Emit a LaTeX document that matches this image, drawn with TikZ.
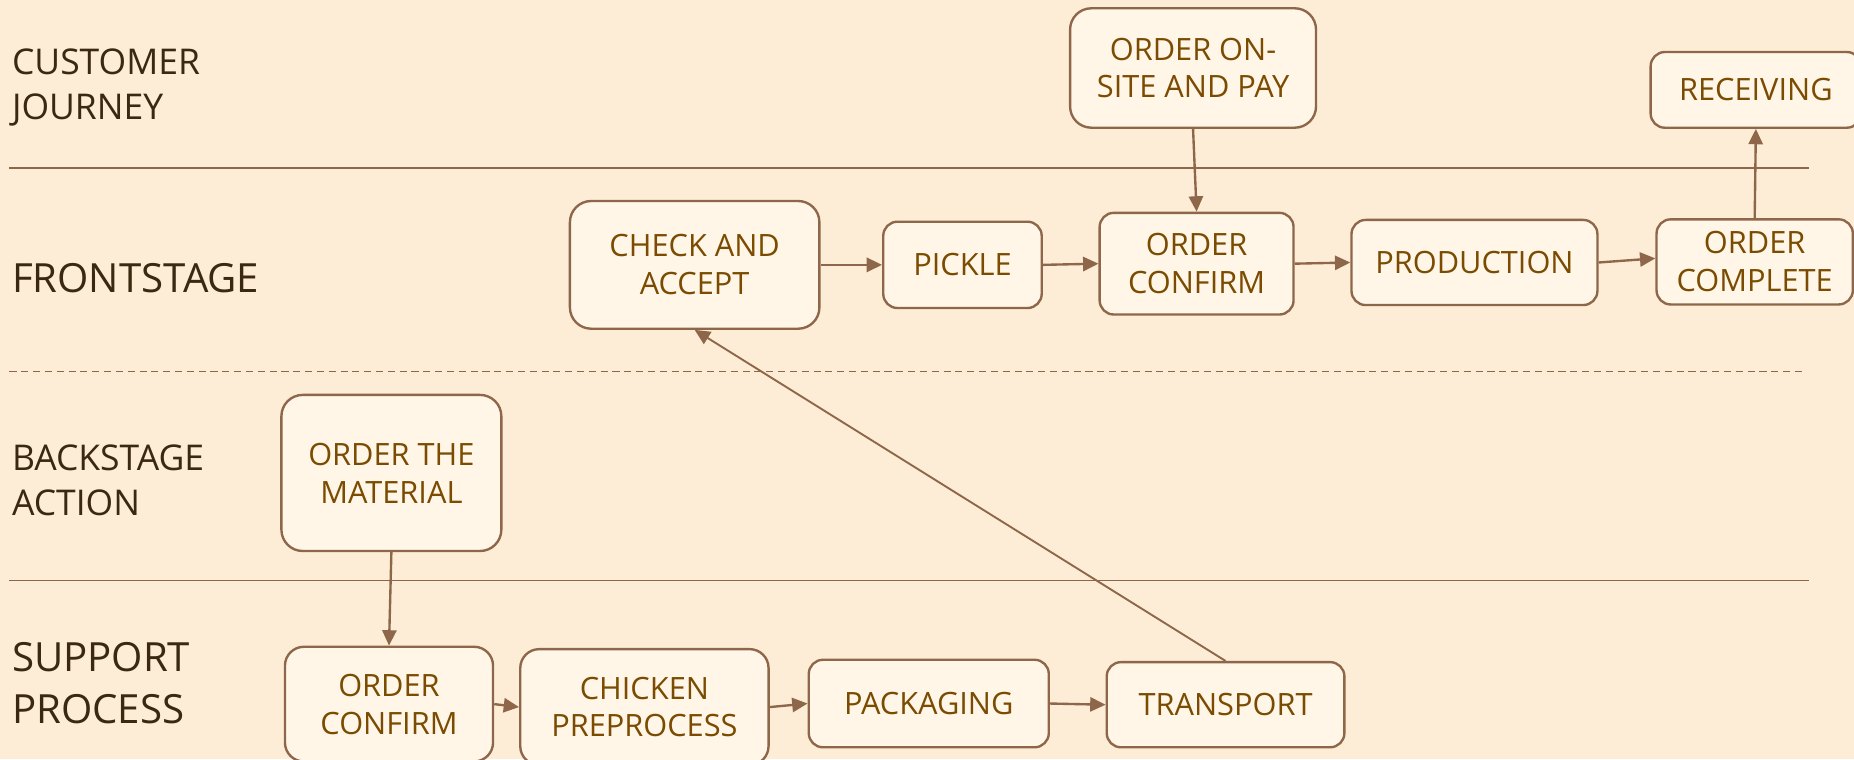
\documentclass[tikz,border=0pt]{standalone}
\usepackage{fontspec}
\setmainfont{Open Sans}
\usetikzlibrary{arrows.meta}
\definecolor{bgc}{HTML}{FDEDD6}
\definecolor{boxfill}{HTML}{FFF6E8}
\definecolor{boxline}{HTML}{8E6649}
\definecolor{boxtext}{HTML}{7A4B00}
\definecolor{lanetext}{HTML}{3A2810}
\begin{document}
\begin{tikzpicture}[x=1pt,y=-1pt,
  stepbox/.style={draw=boxline, fill=boxfill, line width=2pt, rounded corners=12pt,
    text=boxtext, align=center, inner sep=0pt,
    font=\fontsize{26}{32}\selectfont},
  bigbox/.style={stepbox, rounded corners=18pt},
  lanelab/.style={anchor=west, align=left, text=lanetext, inner sep=0pt},
  lanesmall/.style={lanelab, font=\fontsize{30}{38}\selectfont},
  lanebig/.style={lanelab, font=\fontsize{34}{44}\selectfont},
  sep/.style={draw=boxline, line width=1.2pt},
  flow/.style={draw=boxline, line width=2pt, -{Triangle[length=13pt,width=12pt]}},
  longflow/.style={draw=boxline, line width=1.6pt, -{Triangle[length=13pt,width=12pt]}}
]
\useasboundingbox (0,0) rectangle (1568,642);
\fill[bgc] (0,0) rectangle (1568,642);

% lane separators
\coordinate (s1a) at (8,142);  \coordinate (s1b) at (1530,142);
\coordinate (s2a) at (8,314);  \coordinate (s2b) at (1527,314);
\coordinate (s3a) at (8,491);  \coordinate (s3b) at (1530,491);
\draw[sep] (s1a) -- (s1b);
\draw[sep, dash pattern=on 6pt off 4pt] (s2a) -- (s2b);
\draw[sep] (s3a) -- (s3b);

% lane labels
\node[lanesmall] (l1) at (10,74) {CUSTOMER\\JOURNEY};
\node[lanebig] (l2) at (10,235) {FRONTSTAGE};
\node[lanesmall] (l3) at (10,406) {BACKSTAGE\\ACTION};
\node[lanebig] (l4) at (10,578) {SUPPORT\\PROCESS};

% boxes
\node[bigbox, minimum width=208pt, minimum height=101pt] (onsite) at (1009,57.5) {ORDER ON-\\SITE AND PAY};
\node[stepbox, minimum width=178pt, minimum height=64pt] (recv) at (1485,76) {RECEIVING};
\node[bigbox, minimum width=211pt, minimum height=108pt] (check) at (587.5,224) {CHECK AND\\ACCEPT};
\node[stepbox, minimum width=134pt, minimum height=73pt] (pickle) at (814,224) {PICKLE};
\node[stepbox, minimum width=164pt, minimum height=86pt] (confirmF) at (1012,223) {ORDER\\CONFIRM};
\node[stepbox, minimum width=208pt, minimum height=72pt] (prod) at (1247,222) {PRODUCTION};
\node[stepbox, minimum width=166pt, minimum height=72pt] (complete) at (1484,221.5) {ORDER\\COMPLETE};
\node[bigbox, minimum width=186pt, minimum height=132pt] (material) at (331,400) {ORDER THE\\MATERIAL};
\node[stepbox, rounded corners=16pt, minimum width=176pt, minimum height=97pt] (confirmS) at (329,595.5) {ORDER\\CONFIRM};
\node[stepbox, rounded corners=16pt, minimum width=210pt, minimum height=98pt] (chicken) at (545,598) {CHICKEN\\PREPROCESS};
\node[stepbox, minimum width=203pt, minimum height=74pt] (pack) at (785.5,595) {PACKAGING};
\node[stepbox, minimum width=201pt, minimum height=72pt] (trans) at (1036.5,596) {TRANSPORT};

% connectors
\draw[flow] (check.east) -- (pickle.west);
\draw[flow] (pickle.east) -- (confirmF.west);
\draw[flow] (confirmF.east) -- (prod.west);
\draw[flow] (prod.east) -- ([yshift=3pt]complete.west);
\draw[flow] (complete.north) -- (recv.south);
\draw[flow] (onsite.south) -- (confirmF.north);
\draw[flow] (material.south) -- (confirmS.north);
\draw[flow] (confirmS.east) -- (chicken.west);
\draw[flow] (chicken.east) -- (pack.west);
\draw[flow] (pack.east) -- (trans.west);
\draw[longflow] (trans.north) -- (check.south);
\end{tikzpicture}
\end{document}
